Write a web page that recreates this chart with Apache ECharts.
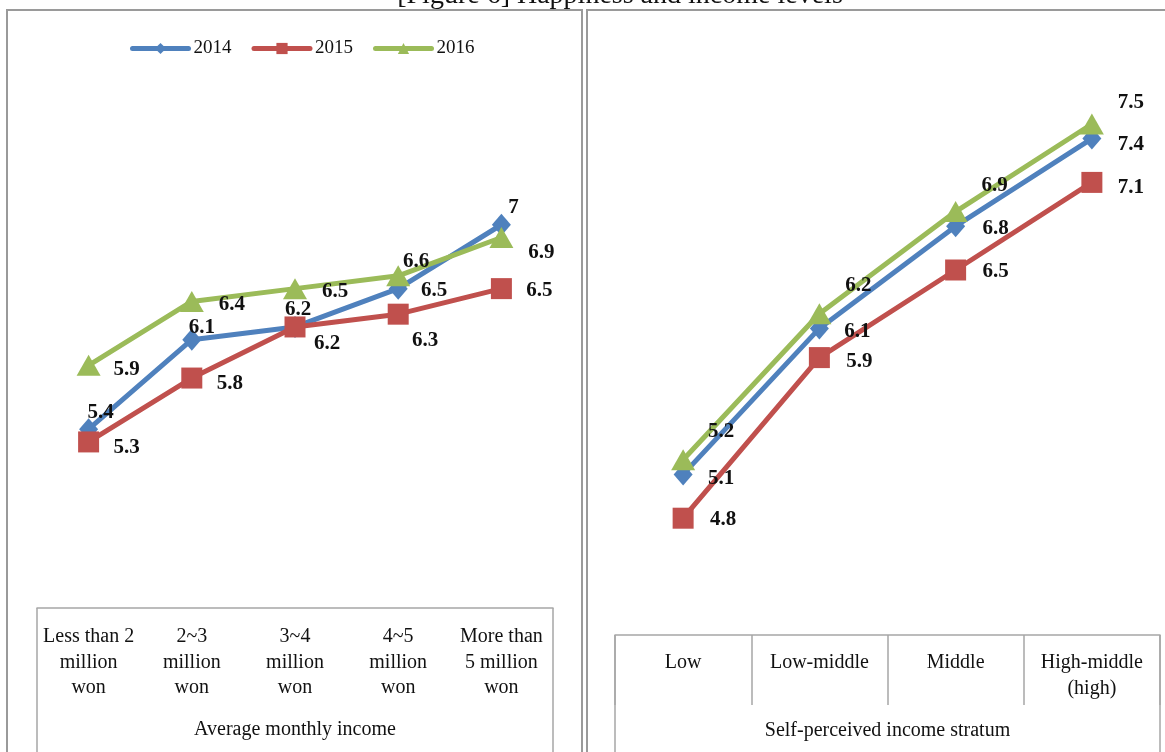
<!DOCTYPE html>
<html>
<head>
<meta charset="utf-8">
<script src="https://cdn.jsdelivr.net/npm/echarts@6/dist/echarts.min.js"></script>
<style>
html,body{margin:0;padding:0;background:#fff;}
#c{width:1165px;height:752px;}
</style>
</head>
<body>
<div id="c"></div>
<script>
// ---- data ----
const years = ['2014', '2015', '2016'];
const incomeCategories = ['Less than 2\nmillion\nwon', '2~3\nmillion\nwon', '3~4\nmillion\nwon', '4~5\nmillion\nwon', 'More than\n5 million\nwon'];
const income2014 = [5.4, 6.1, 6.2, 6.5, 7.0];
const income2015 = [5.3, 5.8, 6.2, 6.3, 6.5];
const income2016 = [5.9, 6.4, 6.5, 6.6, 6.9];
const stratumCategories = ['Low', 'Low-middle', 'Middle', 'High-middle\n(high)'];
const stratum2014 = [5.1, 6.1, 6.8, 7.4];
const stratum2015 = [4.8, 5.9, 6.5, 7.1];
const stratum2016 = [5.2, 6.2, 6.9, 7.5];

// ---- label placement (style) ----
const leftOff = [
  [[12,-17],[10,-12],[3,-17],[36,2],[12,-17]],
  [[38,6],[38,6],[32,17],[27,26],[38,2]],
  [[38,4],[40,3],[40,3],[18,-14],[40,15]]
];
const rightOff = [
  [[38,4],[38,3],[40,2],[39,6]],
  [[40,1],[40,4],[40,2],[39,5]],
  [[38,-28],[39,-28],[39,-26],[39,-21]]
];

const colors = ['#4F81BD', '#C0504D', '#9BBB59'];
const symbols = ['diamond', 'rect', 'triangle'];
const symbolSizes = [[19, 22], 21, [24, 21]];
const FONT = 'Liberation Serif';
const GRAY = '#a6a6a6';

const G0 = {left: 37, top: 97, width: 516, height: 511};
const G1 = {left: 615, top: 51, width: 545, height: 584};

function mkSeries(name, idx, vals, offs, gi, lw) {
  return {
    name: name,
    type: 'line',
    xAxisIndex: gi, yAxisIndex: gi,
    data: vals.map((v, i) => ({value: v, label: {offset: offs[i]}})),
    symbol: symbols[idx],
    symbolSize: symbolSizes[idx],
    showAllSymbol: true,
    lineStyle: {color: colors[idx], width: lw},
    itemStyle: {color: colors[idx]},
    label: {
      show: true, position: 'inside',
      fontFamily: FONT, fontWeight: 'bold', fontSize: 21, color: '#111',
      formatter: p => String(p.value)
    },
    emphasis: {disabled: true},
    animation: false
  };
}

const chart = echarts.init(document.getElementById('c'));
const lineSeg = (x1, y1, x2, y2, w) => ({type: 'line', shape: {x1, y1, x2, y2}, style: {stroke: GRAY, lineWidth: w || 1.5}, silent: true});

chart.setOption({
  animation: false,
  title: {
    text: '[Figure 6] Happiness and income levels',
    left: 615, top: -23, textAlign: 'center',
    textStyle: {fontFamily: FONT, fontWeight: 'normal', fontSize: 28, color: '#111'}
  },
  legend: {
    data: years,
    left: 130, top: 39, padding: 0,
    itemWidth: 56, itemHeight: 14, itemGap: 20,
    lineStyle: {width: 5, cap: 'round'},
    textStyle: {fontFamily: FONT, fontSize: 19, color: '#111'}
  },
  grid: [
    Object.assign({}, G0),
    Object.assign({}, G1)
  ],
  xAxis: [
    {
      type: 'category', gridIndex: 0, data: incomeCategories, boundaryGap: true,
      axisLine: {lineStyle: {color: GRAY, width: 1.5}},
      axisTick: {show: false},
      axisLabel: {interval: 0, margin: 16, fontFamily: FONT, fontSize: 20, lineHeight: 25.5, color: '#111', verticalAlign: 'top'},
      name: 'Average monthly income', nameLocation: 'middle', nameGap: 112,
      nameTextStyle: {fontFamily: FONT, fontSize: 20, color: '#111'}
    },
    {
      type: 'category', gridIndex: 1, data: stratumCategories, boundaryGap: true,
      axisLine: {lineStyle: {color: GRAY, width: 1.5}},
      axisTick: {show: true, length: 70, interval: 0, lineStyle: {color: GRAY, width: 1.5}},
      axisLabel: {interval: 0, margin: 15, fontFamily: FONT, fontSize: 20, lineHeight: 25.5, color: '#111', verticalAlign: 'top'},
      name: 'Self-perceived income stratum', nameLocation: 'middle', nameGap: 86,
      nameTextStyle: {fontFamily: FONT, fontSize: 20, color: '#111'}
    }
  ],
  yAxis: [
    {type: 'value', gridIndex: 0, min: 4, max: 8, show: false},
    {type: 'value', gridIndex: 1, min: 4, max: 8, show: false}
  ],
  series: [
    mkSeries(years[0], 0, income2014, leftOff[0], 0, 5),
    mkSeries(years[1], 1, income2015, leftOff[1], 0, 5),
    mkSeries(years[2], 2, income2016, leftOff[2], 0, 5),
    mkSeries(years[0], 0, stratum2014, rightOff[0], 1, 5),
    mkSeries(years[1], 1, stratum2015, rightOff[1], 1, 5),
    mkSeries(years[2], 2, stratum2016, rightOff[2], 1, 5)
  ],
  graphic: [
    {type: 'rect', shape: {x: 7, y: 10, width: 575, height: 760}, style: {fill: 'none', stroke: '#9a9a9a', lineWidth: 2}, silent: true, z: -1},
    {type: 'rect', shape: {x: 587, y: 10, width: 600, height: 760}, style: {fill: 'none', stroke: '#9a9a9a', lineWidth: 2}, silent: true, z: -1},
    lineSeg(G0.left, G0.top + G0.height, G0.left, 752),
    lineSeg(G0.left + G0.width, G0.top + G0.height, G0.left + G0.width, 752),
    lineSeg(G1.left, G1.top + G1.height, G1.left, 752),
    lineSeg(G1.left + G1.width, G1.top + G1.height, G1.left + G1.width, 752)
  ]
});
</script>
</body>
</html>
